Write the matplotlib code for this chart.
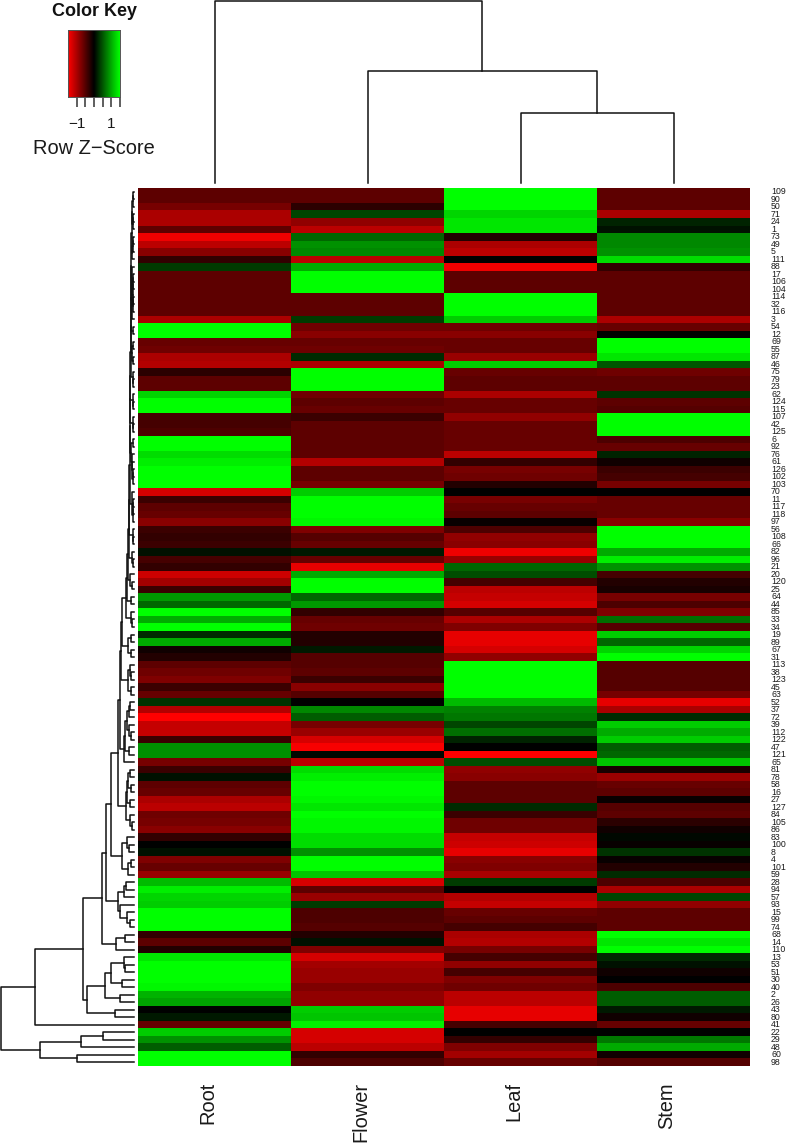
import numpy as np
from matplotlib import pyplot as plt
from matplotlib.colors import LinearSegmentedColormap

plt.rcParams['font.family'] = ['Liberation Sans', 'DejaVu Sans']

columns = ['Root', 'Flower', 'Leaf', 'Stem']

row_labels = [109, 90, 50, 71, 24, 1, 73, 49, 5, 111, 88, 17, 106, 104, 114, 32, 116, 3, 54, 12,
              69, 55, 87, 46, 75, 79, 23, 62, 124, 115, 107, 42, 125, 6, 92, 76, 61, 126, 102, 103,
              70, 11, 117, 118, 97, 56, 108, 66, 82, 96, 21, 20, 120, 25, 64, 44, 85, 33, 34, 19,
              89, 67, 31, 113, 38, 123, 45, 63, 52, 37, 72, 39, 112, 122, 47, 121, 65, 81, 78, 58,
              16, 27, 127, 84, 105, 86, 83, 100, 8, 4, 101, 59, 28, 94, 57, 93, 15, 99, 74, 68,
              14, 110, 13, 53, 51, 30, 40, 2, 26, 43, 80, 41, 22, 29, 48, 60, 98]

root_z = [-.55, -.55, -.7, -1.0, -1.0, -.55, -1.4, -1.1, -.8, -.3, .35, -.55, -.55, -.55, -.55, -.55, -.55, -1.0, 1.5, 1.5,
          -.6, -.65, -1.0, -1.05, -.25, -.55, -.55, 1.25, 1.5, 1.5, -.4, -.4, -.45, 1.5, 1.5, 1.3, 1.4, 1.5, 1.5, 1.5,
          -1.25, -.35, -.55, -.6, -.8, -.35, -.3, -.35, .1, -.4, -.3, -1.2, -.95, -.35, .9, .6, 1.5, 1.0, 1.5, .25,
          1.0, -.1, -.2, -.55, -.65, -.75, -.35, -.6, .3, -1.05, -1.5, -1.15, -1.15, -.35, .85, .85, -.7, -.35, .1, -.55,
          -.6, -1.0, -1.1, -.65, -.7, -.8, -.3, 0, .1, -.75, -.6, -.9, 1.1, 1.4, 1.25, 1.2, 1.5, 1.5, 1.5, -.3,
          -.55, -.2, 1.35, 1.5, 1.5, 1.5, 1.45, 1.05, .95, 0, .15, -.6, 1.2, .85, .55, 1.5, 1.5]
flower_z = [-.55, -.55, -.25, .4, -.85, -1.1, .6, .85, .8, -1.1, 1.0, 1.5, 1.5, 1.5, -.55, -.55, -.55, .35, -.65, -.8,
            -.6, -.65, .25, -1.0, 1.5, 1.5, 1.5, -.65, -.55, -.6, -.35, -.55, -.55, -.55, -.55, -.55, -1.05, -.55, -.55, -.7,
            1.2, 1.5, 1.5, 1.5, 1.45, -.75, -.5, -.6, .15, -.6, -1.35, 1.0, 1.5, 1.5, .6, .9, -.3, -.6, -.65, -.2,
            -.2, .15, -.5, -.5, -.55, -.35, -.8, -.5, 0, .8, .55, -.7, -.9, -1.25, -1.45, .05, -1.1, 1.3, 1.4, 1.5,
            1.5, 1.45, 1.35, 1.5, 1.45, 1.45, 1.3, 1.3, .85, 1.5, 1.5, 1.15, -1.25, -.55, -.9, .35, -.45, -.45, -.5, -.2,
            .1, -.75, -1.25, -.95, -.9, -.9, -.75, -.85, -.85, 1.2, 1.15, 1.4, -1.25, -1.25, -1.1, -.3, -.45]
leaf_z = [1.5, 1.5, 1.5, 1.25, 1.35, 1.35, -.2, -1.0, -1.1, 0, -1.4, -.55, -.55, -.55, 1.5, 1.5, 1.5, 1.2, -.65, -.8,
          -.6, -.6, -.9, 1.2, -.6, -.55, -.55, -1.0, -.6, -.6, -.85, -.6, -.6, -.6, -.6, -1.1, -.3, -.7, -.65, -.2,
          0, -.7, -.6, -.55, -.05, -.45, -.85, -.8, -1.4, -.9, .6, .45, -.4, -1.1, -1.15, -1.25, -.5, -1.0, -.75, -1.35,
          -1.35, -1.25, -.85, 1.5, 1.5, 1.5, 1.5, 1.5, 1.1, .75, .7, .4, .65, .2, 0, -1.5, .45, -.85, -.8, -.55,
          -.55, -.55, .25, -.35, -.65, -.65, -1.15, -1.2, -1.35, -.8, -.75, -1.0, .35, 0, -1.05, -1.15, -.6, -.55, -.4, -1.0,
          -1.05, -.7, -.4, -.85, -.4, -.75, -.65, -1.1, -1.1, -1.35, -1.35, -.4, 0, -.3, -.75, -.95, -.6]
stem_z = [-.55, -.55, -.55, -1.0, .2, .1, .8, .8, .85, 1.3, -.3, -.55, -.55, -.55, -.55, -.55, -.55, -1.0, -.6, 0,
          1.5, 1.5, 1.35, .5, -.65, -.55, -.55, .3, -.55, -.5, 1.5, 1.5, 1.5, -.45, -.6, .2, -.1, -.35, -.4, -.7,
          -.02, -.6, -.6, -.6, -.8, 1.5, 1.5, 1.5, 1.0, 1.4, .85, -.4, -.2, -.15, -.7, -.45, -.75, .65, -.5, 1.2,
          .6, 1.25, 1.5, -.5, -.5, -.5, -.5, -.7, -1.35, -1.0, .25, 1.2, 1.0, 1.2, .55, .6, 1.15, -.15, -.9, -.6,
          -.55, -.05, -.5, -.55, -.25, -.1, .05, -.05, .3, -.05, -.2, .25, -.45, -1.0, .4, -.85, -.55, -.55, -.55, 1.5,
          1.35, 1.5, .25, .1, -.1, -.01, -.45, .55, .55, .15, -.1, -.6, 0, .7, 1.0, -.1, -.5]

# column tree: (left, right, height) with clusters numbered after the leaves
col_merges = [(2, 3, 70), (1, 4, 112), (0, 5, 182)]

# row tree: (first row, first row of second cluster, last row, height)
row_merges = [
    (0, 1, 1, .5), (0, 2, 2, .8), (3, 4, 4, .6), (3, 5, 5, 1.0), (0, 3, 5, 1.5),
    (6, 7, 7, .6), (6, 8, 8, .9), (6, 9, 9, 1.4), (0, 6, 9, 2.0),
    (11, 12, 12, .05), (11, 13, 13, .08), (14, 15, 15, .05), (14, 16, 16, .08), (11, 14, 16, .9),
    (10, 11, 16, 1.4), (10, 17, 17, 1.8), (0, 10, 17, 2.4),
    (18, 19, 19, .8), (0, 18, 19, 2.6),
    (20, 21, 21, .3), (22, 23, 23, .8), (20, 22, 23, 1.5), (0, 20, 23, 2.8),
    (25, 26, 26, .05), (24, 25, 26, .7), (0, 24, 26, 3.0),
    (28, 29, 29, .2), (27, 28, 29, .9), (0, 27, 29, 3.2),
    (31, 32, 32, .2), (30, 31, 32, .7), (0, 30, 32, 3.4),
    (33, 34, 34, .2), (37, 38, 38, .2), (37, 39, 39, .8), (36, 37, 39, 1.2), (35, 36, 39, 1.6),
    (33, 35, 39, 2.2), (0, 33, 39, 3.6),
    (41, 42, 42, .2), (41, 43, 43, .4), (41, 44, 44, .9), (40, 41, 44, 1.5), (0, 40, 44, 3.9),
    (46, 47, 47, .4), (45, 46, 47, .9), (0, 45, 47, 4.2),
    (49, 50, 50, .8), (48, 49, 50, 1.5), (0, 48, 50, 4.6),
    (52, 53, 53, 2), (51, 52, 53, 3.5), (0, 51, 53, 5.5),
    (54, 55, 55, 3), (0, 54, 55, 6.5),
    (57, 58, 58, 2), (56, 57, 58, 3), (0, 56, 58, 7.5),
    (59, 60, 60, 3), (61, 62, 62, 3), (59, 61, 62, 6), (0, 59, 62, 11.2),
    (64, 65, 65, 2.5), (63, 64, 65, 3.5), (66, 67, 67, 3), (63, 66, 67, 5.5), (0, 63, 67, 12.5),
    (68, 69, 69, 3.5), (68, 70, 70, 5), (72, 73, 73, 3), (71, 72, 73, 4.5), (68, 71, 73, 7),
    (74, 75, 75, 5), (68, 74, 75, 8.5), (68, 76, 76, 10), (0, 68, 76, 13.5),
    (77, 78, 78, 3.5), (79, 80, 80, 2.5), (77, 79, 80, 5.5), (81, 82, 82, 4), (77, 81, 82, 7),
    (84, 85, 85, 2), (83, 84, 85, 4), (77, 83, 85, 7.5), (0, 77, 85, 15.2),
    (87, 88, 88, 4.5), (86, 87, 88, 7), (89, 90, 90, 3), (89, 91, 91, 5.5), (86, 89, 91, 11.8), (0, 86, 91, 22.5),
    (92, 93, 93, 7.5), (92, 94, 94, 9.5), (97, 98, 98, 4), (96, 97, 98, 7), (95, 96, 98, 13.5),
    (92, 95, 98, 15.5), (0, 92, 98, 27.8),
    (99, 100, 100, 8.5), (99, 101, 101, 17.5), (0, 99, 101, 31.8),
    (103, 104, 104, 8.5), (102, 103, 104, 9.5), (105, 106, 106, 12), (102, 105, 106, 22.8),
    (107, 108, 108, 13.5), (102, 107, 108, 28.5), (109, 110, 110, 18.5), (102, 109, 110, 46.2),
    (0, 102, 110, 50.8), (0, 111, 111, 98.5),
    (112, 113, 113, 30.5), (112, 114, 114, 52.5), (115, 116, 116, 56.5), (112, 115, 116, 94),
    (0, 112, 116, 132.5),
]

key_ticks = [-1, -0.5, 0, 0.5, 1, 1.5]
key_ticklabels = ['\u22121', '', '', '', '1', '']

W = 787
H = 1145


def axesPx(left, top, right, bottom):
    return fig.add_axes([left / W, 1 - bottom / H, (right - left) / W, (bottom - top) / H])


redgreen = LinearSegmentedColormap.from_list('redgreen', [(1, 0, 0), (0, 0, 0), (0, 1, 0)])

fig = plt.figure(figsize=(W / 100, H / 100), dpi=100)

# heatmap
z = np.array([root_z, flower_z, leaf_z, stem_z]).T
ax = axesPx(138, 188, 750, 1066)
ax.imshow(z, cmap=redgreen, vmin=-1.5, vmax=1.5, aspect='auto', interpolation='nearest',
          extent=(0, len(columns), len(row_labels), 0))
ax.set_xticks([])
ax.set_yticks([])
for s in ax.spines.values():
    s.set_visible(False)

for i, label in enumerate(row_labels):
    ax.annotate(str(label), xy=(1, i + 0.5), xycoords=('axes fraction', 'data'), xytext=(21, 0),
                textcoords='offset pixels', ha='left', va='center', fontsize=6.3, color='#1a1a1a')
for i, name in enumerate(columns):
    ax.annotate(name, xy=(i + 0.5, 0), xycoords=('data', 'axes fraction'), xytext=(-7, -16),
                textcoords='offset pixels', ha='center', va='top', rotation=90, fontsize=14.4,
                color='#1a1a1a')

# column dendrogram
ax = axesPx(138, 0, 750, 188)
ax.set_xlim(0, len(columns))
ax.set_ylim(-5, 183)
ax.axis('off')
nodes = [(i + 0.5, 0) for i in range(len(columns))]
for (left, right, height) in col_merges:
    xl, hl = nodes[left]
    xr, hr = nodes[right]
    ax.plot([xl, xl, xr, xr], [hl, height, height, hr], color='#111111', lw=1.1, clip_on=False)
    nodes.append(((xl + xr) / 2, height))

# row dendrogram
ax = axesPx(0, 188, 138, 1066)
ax.set_xlim(133.5, -4.5)
ax.set_ylim(len(row_labels), 0)
ax.axis('off')
clusters = {(i, i): (i + 0.5, 0) for i in range(len(row_labels))}
for (first, split, last, height) in sorted(row_merges, key=lambda m: m[2] - m[0]):
    yl, hl = clusters[(first, split - 1)]
    yr, hr = clusters[(split, last)]
    ax.plot([hl, height, height, hr], [yl, yl, yr, yr], color='#111111', lw=1.1, clip_on=False)
    clusters[(first, last)] = ((yl + yr) / 2, height)

# color key
ax = axesPx(68, 30, 120, 97)
ax.imshow(np.linspace(-1.5, 1.5, 256)[None, :], cmap=redgreen, vmin=-1.5, vmax=1.5, aspect='auto',
          extent=(-1.5, 1.5, 0, 1))
ax.set_yticks([])
ax.set_xticks(key_ticks)
ax.set_xticklabels(key_ticklabels, fontsize=11, color='#1a1a1a')
ax.tick_params(axis='x', length=7.2, width=1.1, color='#333333', pad=7)
for s in ax.spines.values():
    s.set_color('#555555')
    s.set_linewidth(0.7)

fig.text(94 / W, 1 - 12 / H, 'Color Key', ha='center', va='center', fontsize=13, fontweight='bold',
         color='#111111')
fig.text(94 / W, 1 - 149 / H, 'Row Z\u2212Score', ha='center', va='center', fontsize=14.4,
         color='#1a1a1a')

plt.savefig('out.png', dpi=100)
